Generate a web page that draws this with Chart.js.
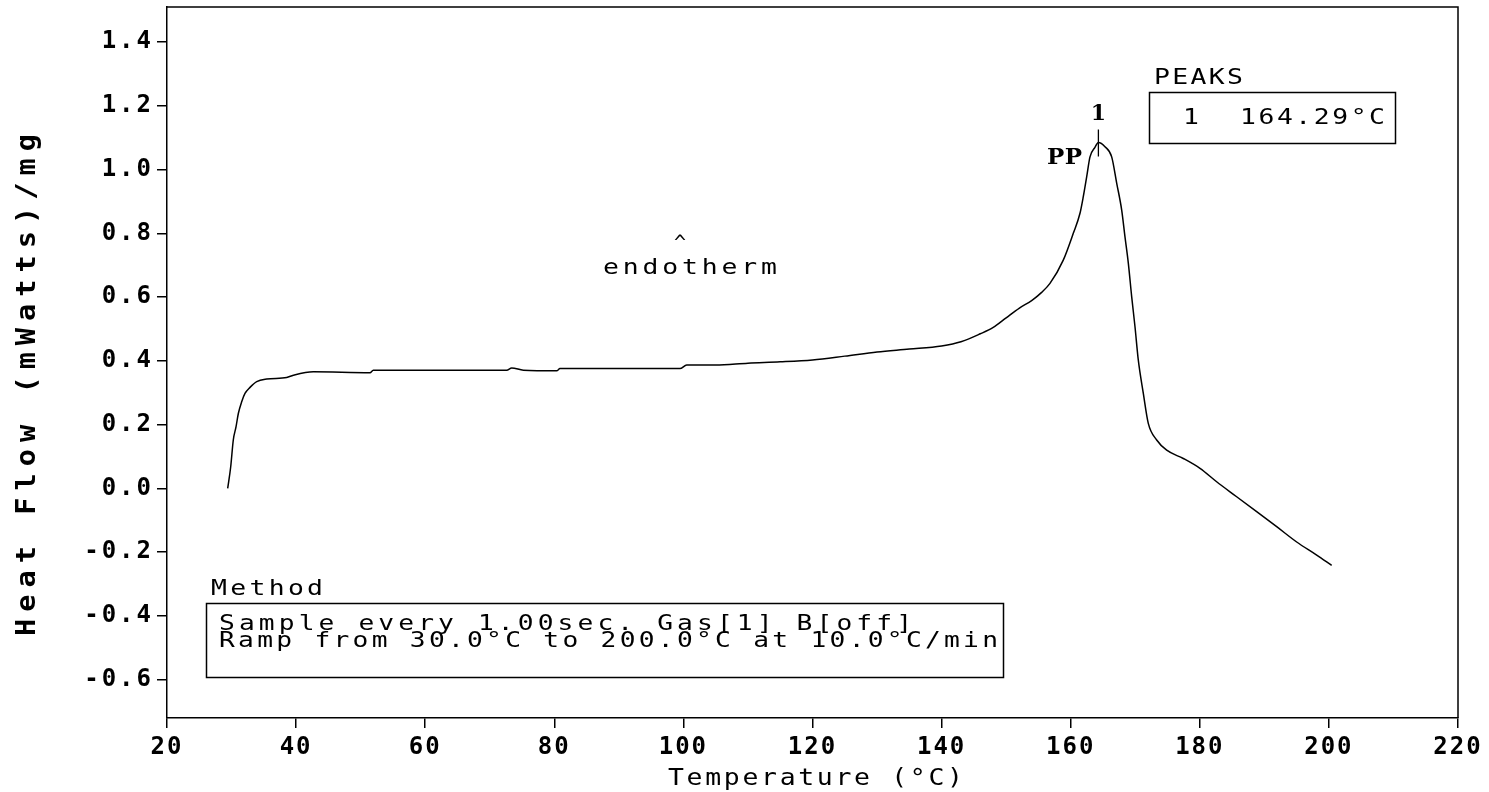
<!DOCTYPE html>
<html><head><meta charset="utf-8">
<script src="https://cdn.jsdelivr.net/npm/chart.js@4.4.1/dist/chart.umd.min.js"></script>
<style>html,body{margin:0;padding:0;background:#fff;overflow:hidden}#wrap{width:1489px;height:792px}</style>
</head><body><div id="wrap"><canvas id="c" width="1489" height="792"></canvas></div>
<script>
// ---- data ----
const temperature = [29.40, 29.87, 30.27, 30.69, 31.05, 31.57, 32.08, 32.86, 33.90, 35.45, 38.54, 39.57, 42.67, 51.45, 51.96, 61.26, 72.63, 73.40, 75.20, 80.37, 80.88, 99.47, 100.51,
  105, 110, 115, 120, 125, 130, 135, 140, 143, 146, 148, 150, 152, 154, 155.5, 156.79, 158.85, 160.40, 161.44, 161.95, 162.48, 162.99, 163.76, 164.29, 165.31, 166.35, 167.13, 167.90, 168.41, 168.93,
  169.45, 169.96, 170.47, 171.25, 172.02, 173.32, 174.87, 177.44, 180.03, 182.61, 185.71, 188.81, 191.91, 195.01, 198.11, 200.43];
const heatFlow = [0.000, 0.068, 0.152, 0.193, 0.235, 0.272, 0.298, 0.317, 0.335, 0.343, 0.348, 0.355, 0.366, 0.363, 0.371, 0.371, 0.371, 0.378, 0.371, 0.369, 0.376, 0.376, 0.387,
  0.387, 0.393, 0.397, 0.403, 0.415, 0.428, 0.437, 0.447, 0.460, 0.485, 0.505, 0.535, 0.565, 0.590, 0.615, 0.643, 0.716, 0.800, 0.863, 0.915, 0.978, 1.040, 1.070, 1.085, 1.072, 1.040, 0.957, 0.873, 0.789, 0.706,
  0.601, 0.507, 0.403, 0.298, 0.204, 0.152, 0.120, 0.094, 0.063, 0.021, -0.026, -0.073, -0.120, -0.168, -0.209, -0.241];
const xTickValues = [20, 40, 60, 80, 100, 120, 140, 160, 180, 200, 220];
const xTickLabels = ['20', '40', '60', '80', '100', '120', '140', '160', '180', '200', '220'];
const yTickValues = [-0.6, -0.4, -0.2, 0.0, 0.2, 0.4, 0.6, 0.8, 1.0, 1.2, 1.4];
const yTickLabels = ['-0.6', '-0.4', '-0.2', '0.0', '0.2', '0.4', '0.6', '0.8', '1.0', '1.2', '1.4'];
const xRange = [20, 220];
const yRange = [-0.72, 1.51];
const xTitle = 'Temperature (°C)';
const yTitle = 'Heat Flow (mWatts)/mg';
const peakNumbers = ['1'];
const peakTemps = [164.29];
const peakValues = [1.085];
const peakTableTitle = 'PEAKS';
const peakTableRows = ['164.29°C'];
const sampleName = 'PP';
const endoLabel = 'endotherm';
const methodTitle = 'Method';
const methodLines = ['Sample every 1.00sec. Gas[1] B[off]', 'Ramp from 30.0°C to 200.0°C at 10.0°C/min'];

// ---- helpers ----
const MONO = '"DejaVu Sans Mono", "Liberation Mono", monospace';
const SERIF = '"DejaVu Serif", "Liberation Serif", serif';
function fitText(ctx, s, x0, x1, y, font, stretch) {
  stretch = stretch || 1;
  ctx.save();
  ctx.font = font; ctx.letterSpacing = '0px';
  ctx.textBaseline = 'middle'; ctx.textAlign = 'left'; ctx.fillStyle = '#000';
  const w0 = ctx.measureText(s).width * stretch;
  const sp = s.length > 1 ? (x1 - x0 - w0) / (s.length - 1) : 0;
  ctx.translate(x0, y); ctx.scale(stretch, 1);
  ctx.letterSpacing = (sp / stretch) + 'px';
  ctx.fillText(s, 0, 0);
  ctx.restore();
}
function centerText(ctx, s, x, y, font, stretch) {
  stretch = stretch || 1;
  ctx.save(); ctx.font = font; ctx.textBaseline = 'middle'; ctx.textAlign = 'center'; ctx.fillStyle = '#000';
  ctx.translate(x, y); ctx.scale(stretch, 1);
  ctx.fillText(s, 0, 0); ctx.restore();
}

const spacingPlugin = {
  id: 'labelSpacing',
  afterLayout(chart) {
    [['x', 2], ['y', 3]].forEach(([id, sp]) => {
      const s = chart.scales[id];
      if (s && !s._spPatched) {
        const orig = s.drawLabels.bind(s);
        s.drawLabels = function (ca) { const c = this.ctx; c.save(); c.letterSpacing = sp + 'px'; orig(ca); c.restore(); };
        s._spPatched = true;
      }
    });
  }
};

const decoPlugin = {
  id: 'deco',
  afterDraw(chart) {
    const ctx = chart.ctx, a = chart.chartArea, xs = chart.scales.x, ys = chart.scales.y;
    // frame top and right
    ctx.save(); ctx.strokeStyle = '#000'; ctx.lineWidth = 1.5;
    ctx.beginPath(); ctx.moveTo(a.left, a.top); ctx.lineTo(a.right, a.top); ctx.lineTo(a.right, a.bottom); ctx.stroke();
    // peak marker
    peakTemps.forEach((t, i) => {
      const px = xs.getPixelForValue(t), py = ys.getPixelForValue(peakValues[i]);
      ctx.beginPath(); ctx.lineWidth = 1.3; ctx.moveTo(px, py - 13); ctx.lineTo(px, py + 14); ctx.stroke();
      centerText(ctx, peakNumbers[i], px, py - 28, 'bold 22px ' + SERIF);
    });
    // boxes
    ctx.lineWidth = 1.5;
    ctx.strokeRect(1149.5, 92.5, 246, 51);
    ctx.strokeRect(206.5, 603.5, 797, 74);
    ctx.restore();

    // axis titles
    fitText(ctx, xTitle, 668, 963, 779, '23px ' + MONO, 1.15);
    ctx.save(); ctx.translate(28, 636); ctx.rotate(-Math.PI / 2);
    fitText(ctx, yTitle, 0, 502, 0, 'bold 26px ' + MONO, 1.1);
    ctx.restore();

    // annotations
    fitText(ctx, sampleName, 1047, 1082, 158, 'bold 23px ' + SERIF, 1.0);
    fitText(ctx, peakTableTitle, 1154, 1243, 78, '22px ' + MONO, 1.2);
    centerText(ctx, peakNumbers[0], 1191, 118, '22px ' + MONO, 1.2);
    fitText(ctx, peakTableRows[0], 1240, 1385, 118, '22px ' + MONO, 1.2);
    centerText(ctx, '^', 680, 244, '20px ' + MONO);
    fitText(ctx, endoLabel, 603, 777, 268, '22px ' + MONO, 1.2);
    fitText(ctx, methodTitle, 211, 323, 589, '22px ' + MONO, 1.2);
    fitText(ctx, methodLines[0], 219, 912, 625, '21px ' + MONO, 1.25);
    fitText(ctx, methodLines[1], 219, 998, 642, '21px ' + MONO, 1.25);
  }
};

const points = temperature.map((t, i) => ({ x: t, y: heatFlow[i] }));

new Chart(document.getElementById('c'), {
  type: 'line',
  data: { datasets: [{ data: points, borderColor: '#000', borderWidth: 1.5, pointRadius: 0, cubicInterpolationMode: 'monotone', fill: false }] },
  options: {
    responsive: false, animation: false, devicePixelRatio: 1,
    layout: { padding: { left: 0, top: 7, right: 31, bottom: 0 } },
    plugins: { legend: { display: false }, tooltip: { enabled: false } },
    scales: {
      x: {
        type: 'linear', min: xRange[0], max: xRange[1],
        afterBuildTicks: s => { s.ticks = xTickValues.map(v => ({ value: v })); },
        afterFit: s => { s.height = 74; s.paddingLeft = 0; s.paddingRight = 0; },
        grid: { display: true, drawOnChartArea: false, drawTicks: true, tickLength: 10, color: '#000', lineWidth: 1.5 },
        border: { display: true, color: '#000', width: 1.5 },
        ticks: { autoSkip: false, maxRotation: 0, padding: 5, color: '#000', font: { family: MONO, size: 24, weight: 'bold' },
          callback: v => { const i = xTickValues.indexOf(v); return i >= 0 ? xTickLabels[i] : ''; } },
        title: { display: false, text: xTitle }
      },
      y: {
        type: 'linear', min: yRange[0], max: yRange[1],
        afterBuildTicks: s => { s.ticks = yTickValues.map(v => ({ value: v })); },
        afterFit: s => { s.width = 167; s.paddingTop = 0; s.paddingBottom = 0; },
        grid: { display: true, drawOnChartArea: false, drawTicks: true, tickLength: 10, color: '#000', lineWidth: 1.5 },
        border: { display: true, color: '#000', width: 1.5 },
        ticks: { autoSkip: false, padding: 3, color: '#000', font: { family: MONO, size: 24, weight: 'bold' },
          callback: v => { const i = yTickValues.findIndex(t => Math.abs(t - v) < 1e-9); return i >= 0 ? yTickLabels[i] : ''; } },
        title: { display: false, text: yTitle }
      }
    }
  },
  plugins: [spacingPlugin, decoPlugin]
});
</script></body></html>
